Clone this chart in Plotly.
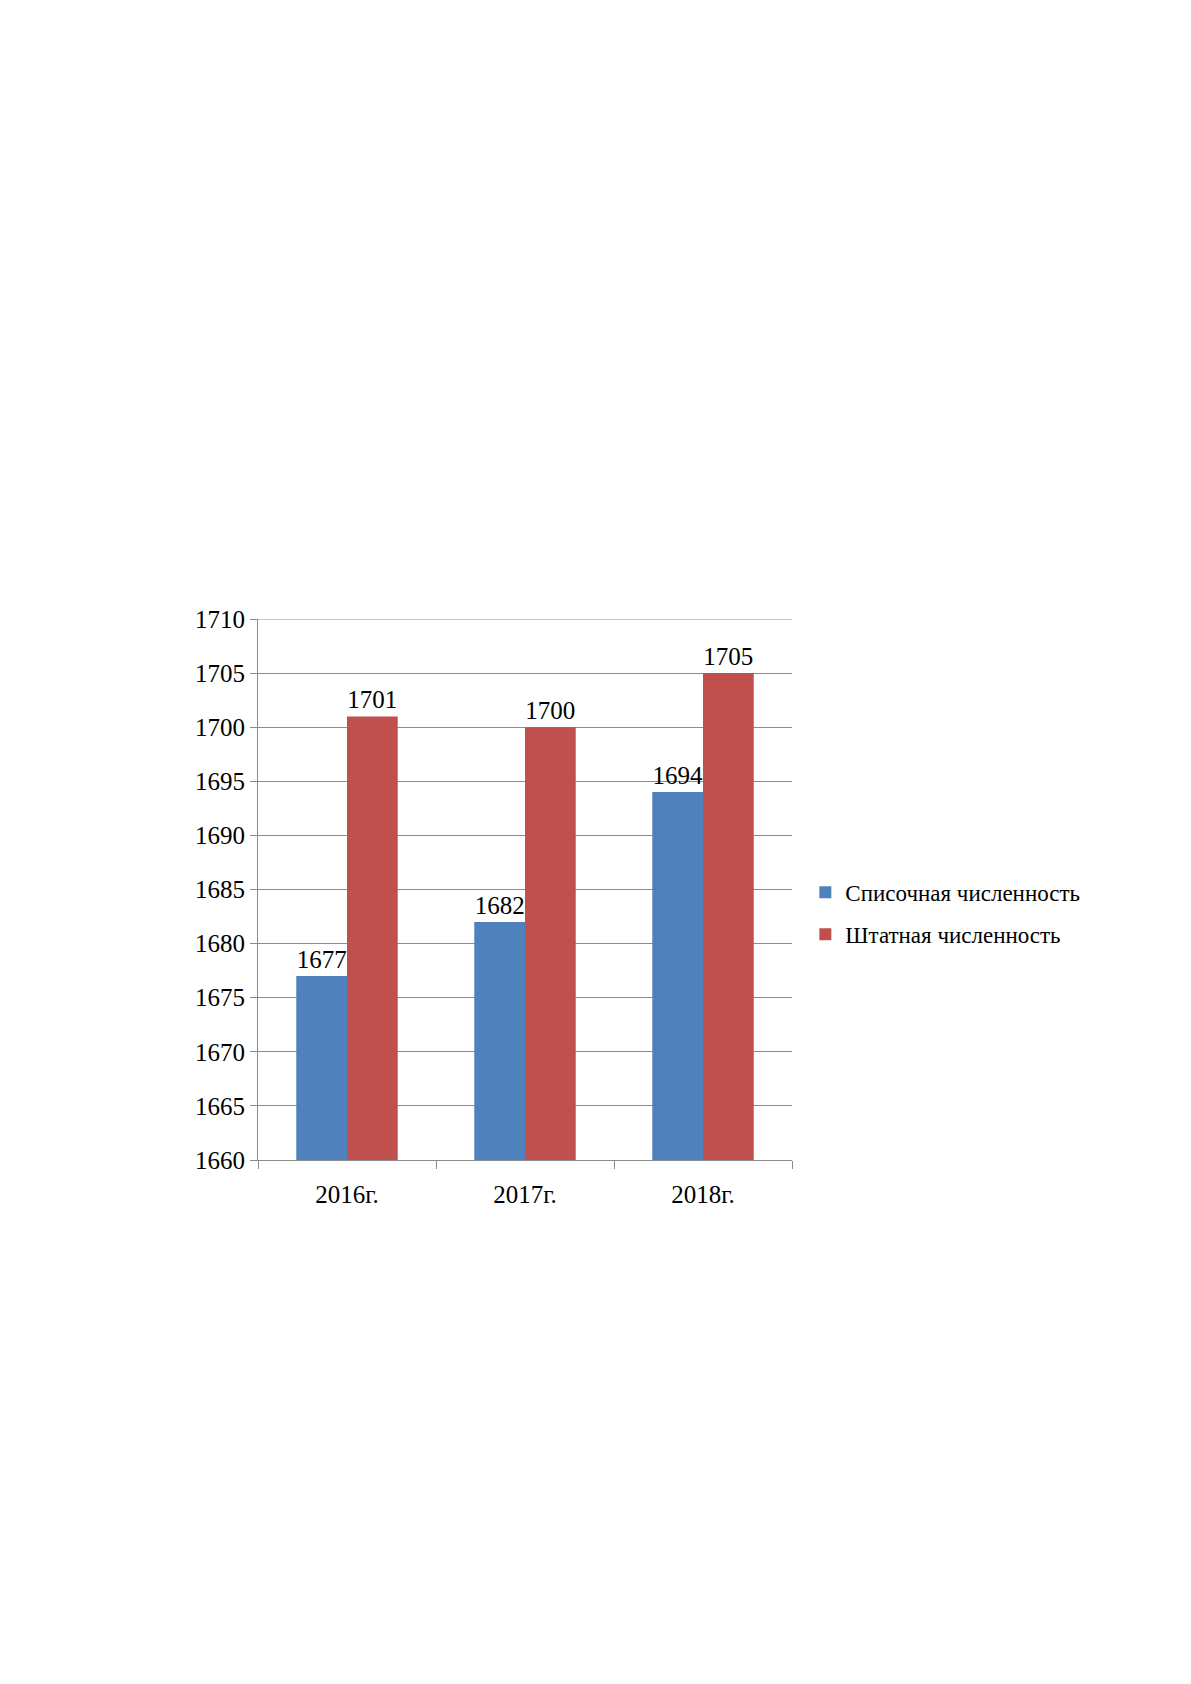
import plotly.graph_objects as go

years = ["2016г.", "2017г.", "2018г."]
spisochnaya = [1677, 1682, 1694]
shtatnaya = [1701, 1700, 1705]
y_ticks = list(range(1660, 1711, 5))

FONT = "Liberation Serif, Times New Roman, serif"
GRID = "#8c8c8c"

fig = go.Figure()
fig.add_trace(go.Bar(
    x=years, y=spisochnaya, name="Списочная численность",
    marker_color="#4F81BD", text=spisochnaya, textposition="outside",
    cliponaxis=False, legendgroup="a",
))
fig.add_trace(go.Bar(
    x=years, y=shtatnaya, name="Штатная численность",
    marker_color="#C0504D", text=shtatnaya, textposition="outside",
    cliponaxis=False, legendgroup="b",
))

fig.update_traces(textfont=dict(family=FONT, size=25, color="black"),
                  marker_line_width=0, textfont_size=25)

# top gridline at the last tick (plotly skips it at the range edge)
fig.add_shape(type="line", xref="paper", x0=0, x1=1,
              yref="y", y0=y_ticks[-1], y1=y_ticks[-1],
              line=dict(color=GRID, width=1), layer="below")

fig.update_layout(
    width=1191, height=1684,
    margin=dict(l=250, r=407, t=611, b=532),
    paper_bgcolor="white", plot_bgcolor="white",
    barmode="group", bargap=0.43, bargroupgap=0,
    font=dict(family=FONT, size=25, color="black"),
    legend=dict(x=1.025, y=0.456, xanchor="left", yanchor="middle",
                font=dict(family=FONT, size=23), itemwidth=30,
                tracegroupgap=9),
    showlegend=True,
)
fig.update_yaxes(
    range=[1660, 1710], tickvals=y_ticks,
    showgrid=True, gridcolor=GRID, gridwidth=1,
    showline=True, linecolor=GRID, linewidth=1,
    ticks="outside", ticklen=7, tickcolor=GRID,
    tickfont=dict(family=FONT, size=25), zeroline=False,
)
fig.update_xaxes(
    showline=True, linecolor=GRID, linewidth=1,
    ticks="outside", tickson="boundaries", ticklen=8, tickcolor=GRID,
    tickfont=dict(family=FONT, size=25), ticklabelstandoff=12,
)

fig.write_html("out.html")
